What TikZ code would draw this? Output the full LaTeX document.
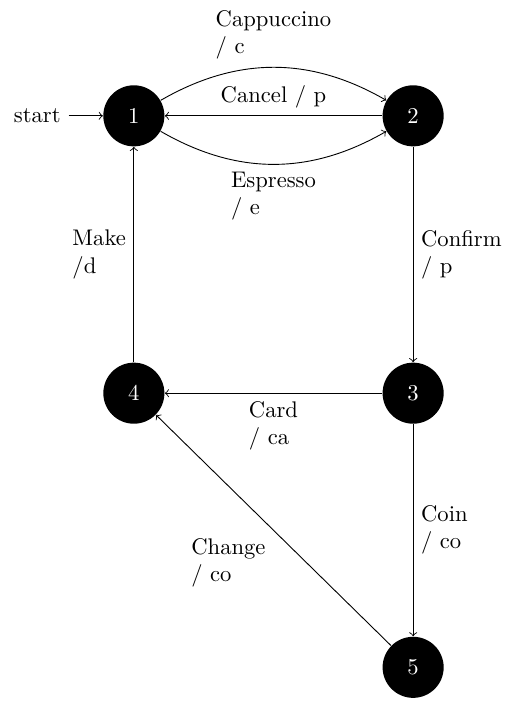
\documentclass[tikz,border=0pt]{standalone}
\usetikzlibrary{positioning}
\tikzset{
  state/.style={circle,fill=black,text=white,minimum size=27pt,inner sep=0pt},
  trans/.style={align=left}
}
\begin{document}
\begin{tikzpicture}[->]
\useasboundingbox (-2.08,-9.14) rectangle (5.89,1.80);
\node[state] (S1) at (0,0) {1};
\node[state] (S2) at ([shift={+(4.34,0)}]S1) {2};
\node[state] (S3) at ([shift={+(0,-4.31)}]S2) {3};
\node[state] (S4) at ([shift={+(-4.34,0)}]S3) {4};
\node[state] (S5) at ([shift={+(0,-4.26)}]S3) {5};
\node (start) at ([shift={+(-1.5,0)}]S1) {start};

\draw (start)--(S1);
\draw (S1) to[bend left] node[above,trans] {Cappuccino\\/ c} (S2);
\draw (S1) to[bend right] node[below,trans] {Espresso\\/ e} (S2);
\draw (S2)--(S1) node[midway,above] {Cancel / p};
\draw (S2)--(S3) node[midway,right,trans] {Confirm\\/ p};
\draw (S3)--(S4) node[midway,below,trans] {Card\\/ ca};
\draw (S4)--(S1) node[midway,left,trans] {Make\\/d};
\draw (S3)--(S5) node[midway,right,trans] {Coin\\/ co};
\draw (S5)--(S4) node[midway,below left,trans] {Change\\/ co};
\end{tikzpicture}
\end{document}
